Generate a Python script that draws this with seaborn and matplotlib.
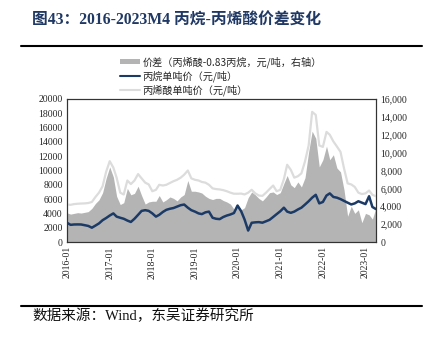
import numpy as np
import pandas as pd
import matplotlib
matplotlib.use('Agg')
import matplotlib.pyplot as plt
import seaborn as sns
from matplotlib.patches import Patch
from matplotlib.lines import Line2D

sns.set_style('white')
plt.rcParams['font.family'] = ['Noto Sans CJK SC', 'DejaVu Sans']
plt.rcParams['axes.unicode_minus'] = False

# ---------------- data (monthly) ----------------
months = pd.date_range('2016-01-01', '2023-04-01', freq='MS')

# price spread (acrylic acid - 0.83*propane), yuan/t, right axis
spread = [3260, 3120, 3200, 3280, 3240, 3320, 3400, 3760, 4320, 4720, 5520, 7120,
          8400, 7280, 5120, 4190, 4400, 6000, 5280, 5440, 6240, 5200, 4240, 4480,
          4560, 4560, 5200, 4480, 4720, 5040, 4880, 4600, 5040, 5310, 6880, 5680,
          5680, 5600, 5480, 5120, 4880, 4750, 4880, 4880, 4640, 4480, 4240, 3680,
          4190, 3600, 3840, 4960, 5600, 5280, 4880, 4600, 5040, 5520, 5600, 5310,
          5520, 6560, 7440, 6400, 6080, 6720, 6160, 7200, 10080, 12400, 11600, 8400,
          9200, 10720, 9200, 9760, 8280, 7840, 5840, 2880, 4000, 3200, 3600, 2160,
          3200, 3040, 2560, 3840]

# propane price, yuan/t, left axis
propane = [2690, 2400, 2450, 2460, 2450, 2350, 2250, 2000, 2300, 2600, 3050, 3350,
           3700, 4000, 3550, 3390, 3250, 3000, 2800, 3250, 3800, 4350, 4450, 4350,
           4000, 3550, 3800, 4200, 4500, 4650, 4750, 4950, 5150, 5240, 4800, 4450,
           4250, 4000, 3900, 4150, 4250, 3390, 3250, 3200, 3500, 3700, 3850, 4050,
           5100, 4300, 3150, 1600, 2690, 2750, 2780, 2700, 2900, 3100, 3500, 3900,
           4300, 4800, 4250, 4080, 4250, 4550, 4800, 5240, 5700, 6200, 6600, 5400,
           5600, 6500, 6800, 6300, 6200, 6000, 5750, 5500, 5250, 5400, 5700, 5500,
           5300, 6400, 4900, 4600]

# acrylic acid price, yuan/t, left axis
acrylic = [5240, 5200, 5300, 5350, 5380, 5400, 5450, 5600, 6300, 6900, 7800, 9800,
           11300, 10400, 9000, 6900, 6640, 8600, 8100, 8600, 9500, 8900, 8300, 8050,
           7100, 7300, 8000, 7900, 8000, 8260, 8500, 8700, 9000, 9420, 10000, 8900,
           8700, 8600, 8400, 8300, 8000, 7500, 7400, 7350, 7250, 7100, 6900, 6750,
           6750, 6770, 6650, 6900, 7300, 6800, 6500, 6450, 6900, 7400, 7900, 7100,
           7300, 8800, 10800, 10100, 9000, 9200, 9600, 11280, 13500, 18200, 17770, 13500,
           13300, 15400, 15000, 14060, 13360, 12600, 10300, 8200, 8050, 7700, 6900, 6700,
           6800, 7200, 6600, 6400]

year_ticks = ['2016-01', '2017-01', '2018-01', '2019-01', '2020-01',
              '2021-01', '2022-01', '2023-01']
left_ticks = list(range(0, 20001, 2000))
right_ticks = list(range(0, 16001, 2000))

labels = ['价差（丙烯酸-0.83丙烷，元/吨，右轴）', '丙烷单吨价（元/吨）', '丙烯酸单吨价（元/吨）']

df = pd.DataFrame({'date': months, 'spread': spread,
                   'propane': propane, 'acrylic': acrylic})

# ---------------- figure ----------------
C_SPREAD = '#B4B4B4'
C_PROP = '#1B3A66'
C_ACRY = '#DCDCDC'
SERIF = ['Liberation Serif', 'Noto Sans CJK SC']

fig = plt.figure(figsize=(4.31, 3.45), dpi=100)
ax = fig.add_axes([67/431, 1-242/345, (376-67)/431, (242-99)/345])
ax2 = ax.twinx()

ax2.fill_between(df['date'], df['spread'], color=C_SPREAD, lw=0)
sns.lineplot(data=df, x='date', y='acrylic', ax=ax, color=C_ACRY, lw=1.6)
sns.lineplot(data=df, x='date', y='propane', ax=ax, color=C_PROP, lw=1.8)

ax.set_zorder(ax2.get_zorder() + 1)
ax.patch.set_visible(False)

ax.set_xlim(months[0], months[-1])
ax.set_ylim(0, 20000)
ax2.set_ylim(0, 16000)

ax.set_yticks(left_ticks)
ax.set_yticklabels([str(v) for v in left_ticks], family=SERIF, fontsize=7)
ax2.set_yticks(right_ticks)
ax2.set_yticklabels([f'{v:,}' for v in right_ticks], family=SERIF, fontsize=7)
ax.set_xticks(pd.to_datetime(year_ticks))
ax.set_xticklabels(year_ticks, rotation=90, family=SERIF, fontsize=7)

ax.set_xlabel('')
ax.set_ylabel('')
ax2.set_ylabel('')
for a in (ax, ax2):
    a.tick_params(length=0, pad=3)
    for s in a.spines.values():
        s.set_color('#333333')
        s.set_linewidth(0.8)

handles = [Patch(facecolor=C_SPREAD, edgecolor='none'),
           Line2D([], [], color=C_PROP, lw=1.5),
           Line2D([], [], color=C_ACRY, lw=1.5)]
fig.legend(handles, labels, loc='upper left', bbox_to_anchor=(120/431, 1-56/345),
           frameon=False, fontsize=7.3, handlelength=2.0, handleheight=0.5,
           handletextpad=0.2, labelspacing=0.25, borderpad=0, borderaxespad=0)

fig.text(32/431, 1-21/345, '图43：2016-2023M4 丙烷-丙烯酸价差变化', fontsize=11.3,
         weight='bold', color='#1F3864', va='center', family=SERIF)
fig.add_artist(Line2D([21/431, 422/431], [1-46/345]*2, color='black', lw=1.5))
fig.add_artist(Line2D([21/431, 422/431], [1-306/345]*2, color='black', lw=1.5))
fig.text(32/431, 1-316/345, '数据来源：Wind，东吴证券研究所', fontsize=10.5,
         va='center', family=SERIF, color='#111111')

fig.savefig('out.png', dpi=100)
